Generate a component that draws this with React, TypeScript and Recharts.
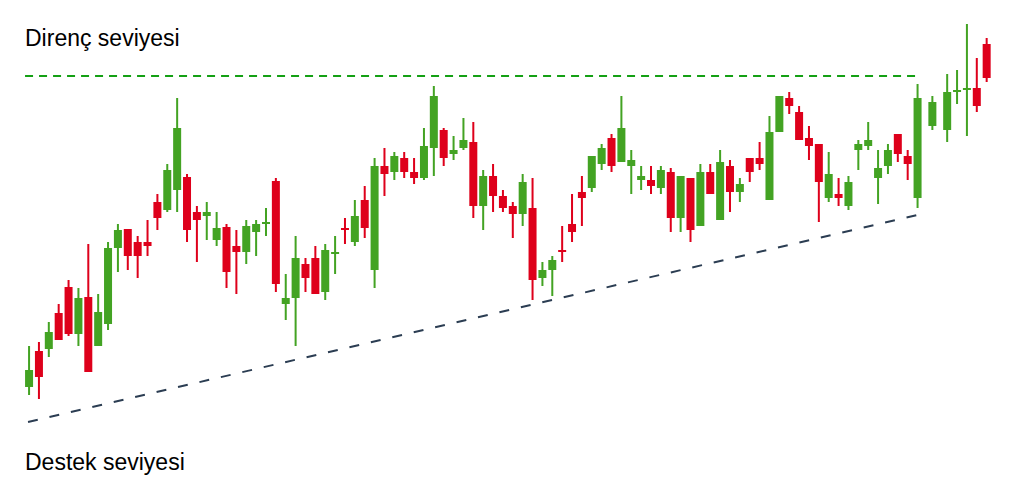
import React from 'react';
import { ComposedChart, Bar, XAxis, YAxis, ReferenceLine } from 'recharts';

// trading day of each candle (the last few sessions are spaced out)
const days = [
  0, 1, 2, 3, 4, 5, 6, 7, 8, 9, 10, 11, 12, 13, 14, 15, 16, 17, 18, 19,
  20, 21, 22, 23, 24, 25, 26, 27, 28, 29, 30, 31, 32, 33, 34, 35, 36, 37, 38, 39,
  40, 41, 42, 43, 44, 45, 46, 47, 48, 49, 50, 51, 52, 53, 54, 55, 56, 57, 58, 59,
  60, 61, 62, 63, 64, 65, 66, 67, 68, 69, 70, 71, 72, 73, 74, 75, 76, 77, 78, 79,
  80, 81, 82, 83, 84, 85, 86, 87, 88, 89, 90, 91.5, 93, 94, 95, 96, 97,
];

const opens = [
  113, 149, 151, 187, 213, 166, 203, 154, 176, 252, 271, 258, 258, 298, 290, 310, 323, 288, 284, 260,
  273, 254, 248, 268, 276, 319, 196, 202, 236, 242, 208, 246, 272, 258, 300, 230, 334, 328, 342, 328,
  322, 352, 370, 346, 352, 358, 294, 324, 304, 294, 286, 292, 222, 230, 250, 276, 308, 312, 336, 362,
  338, 334, 320, 320, 312, 328, 282, 322, 274, 328, 280, 334, 308, 342, 342, 300, 368, 402, 388, 362,
  356, 302, 306, 294, 350, 354, 322, 334, 366, 344, 302, 374, 370, 408, 410, 412, 456,
];

const closes = [
  130, 123, 168, 160, 166, 202, 128, 188, 252, 270, 244, 244, 254, 282, 330, 372, 270, 280, 288, 272,
  228, 248, 274, 276, 278, 216, 202, 242, 222, 206, 250, 248, 270, 284, 272, 334, 326, 344, 328, 322,
  354, 404, 342, 350, 360, 294, 324, 304, 292, 286, 318, 220, 230, 240, 248, 268, 302, 344, 352, 334,
  372, 340, 324, 314, 330, 282, 324, 270, 328, 306, 338, 308, 316, 328, 336, 368, 404, 394, 360, 354,
  318, 326, 302, 318, 356, 360, 332, 350, 346, 336, 402, 398, 408, 410, 412, 394, 422,
];

const highs = [
  154, 158, 178, 196, 220, 212, 256, 206, 258, 276, 271, 264, 280, 306, 336, 402, 326, 294, 298, 288,
  276, 270, 280, 280, 292, 322, 226, 264, 242, 254, 256, 264, 282, 300, 314, 342, 352, 348, 348, 342,
  372, 414, 372, 364, 382, 378, 330, 336, 310, 298, 326, 322, 238, 244, 274, 306, 324, 344, 356, 366,
  404, 350, 334, 334, 334, 332, 324, 322, 336, 336, 350, 340, 322, 342, 358, 384, 404, 408, 394, 374,
  356, 348, 322, 324, 360, 378, 350, 356, 366, 350, 416, 404, 426, 430, 476, 442, 462,
];

const lows = [
  105, 101, 143, 160, 164, 154, 128, 154, 170, 228, 230, 222, 244, 270, 288, 288, 258, 238, 260, 254,
  212, 206, 236, 244, 264, 208, 180, 154, 208, 206, 200, 226, 256, 254, 262, 212, 304, 320, 322, 316,
  320, 324, 334, 340, 350, 282, 270, 288, 288, 262, 274, 200, 214, 204, 238, 258, 274, 308, 330, 328,
  338, 306, 310, 306, 306, 268, 268, 258, 274, 306, 280, 288, 298, 318, 330, 300, 368, 386, 360, 340,
  278, 298, 294, 290, 330, 350, 296, 326, 338, 320, 292, 370, 358, 396, 364, 388, 418,
];

// resistance (flat) and rising support trend lines
const resistanceLevel = 424;
const resistanceFrom = -0.4;
const resistanceTo = 90;
const supportStart = { x: -0.1, y: 78 };
const supportEnd = { x: 90, y: 285 };

const GREEN = '#43a323';
const RED = '#de001b';

const data = days.map((day, i) => ({
  day,
  open: opens[i],
  close: closes[i],
  high: highs[i],
  low: lows[i],
  range: [lows[i], highs[i]],
}));

const Candle = (props: any) => {
  const { x, y, width, height, payload } = props;
  if (x == null || y == null) return null;
  const top = Math.min(y, y + height);
  const bottom = Math.max(y, y + height);
  const span = payload.high - payload.low;
  const k = span > 0 ? (bottom - top) / span : 0;
  const yOf = (v: number) => top + (payload.high - v) * k;
  const up = payload.close >= payload.open;
  const color = up ? GREEN : RED;
  const bodyTop = yOf(Math.max(payload.open, payload.close));
  const bodyBottom = yOf(Math.min(payload.open, payload.close));
  const cx = x + width / 2;
  return (
    <g>
      <rect x={cx - 1} y={top} width={2} height={Math.max(bottom - top, 1)} fill={color} />
      <rect x={x} y={bodyTop} width={width} height={Math.max(bodyBottom - bodyTop, 2)} fill={color} />
    </g>
  );
};

const labelStyle: React.CSSProperties = {
  position: 'absolute',
  left: 25,
  fontFamily: '"Liberation Sans", Arial, sans-serif',
  fontSize: 23,
  lineHeight: '23px',
  color: '#000',
  whiteSpace: 'nowrap',
};

export default function App() {
  return (
    <div style={{ position: 'absolute', left: 0, top: 0, width: 1030, height: 500, background: '#fff' }}>
      <ComposedChart width={1030} height={500} data={data} margin={{ top: 0, right: 0, bottom: 0, left: 0 }}>
        <XAxis dataKey="day" type="number" domain={[-2.9376, 101.396]} allowDataOverflow hide />
        <YAxis type="number" domain={[0, 500]} allowDataOverflow hide />
        <ReferenceLine
          segment={[{ x: resistanceFrom, y: resistanceLevel }, { x: resistanceTo, y: resistanceLevel }]}
          stroke="#14a014"
          strokeWidth={2}
          strokeDasharray="8 6"
        />
        <ReferenceLine
          segment={[supportStart, supportEnd]}
          stroke="#2b3d52"
          strokeWidth={2}
          strokeDasharray="10 12"
        />
        <Bar dataKey="range" barSize={8} shape={<Candle />} isAnimationActive={false} />
      </ComposedChart>
      <div style={{ ...labelStyle, top: 27 }}>Direnç seviyesi</div>
      <div style={{ ...labelStyle, top: 451 }}>Destek seviyesi</div>
    </div>
  );
}
